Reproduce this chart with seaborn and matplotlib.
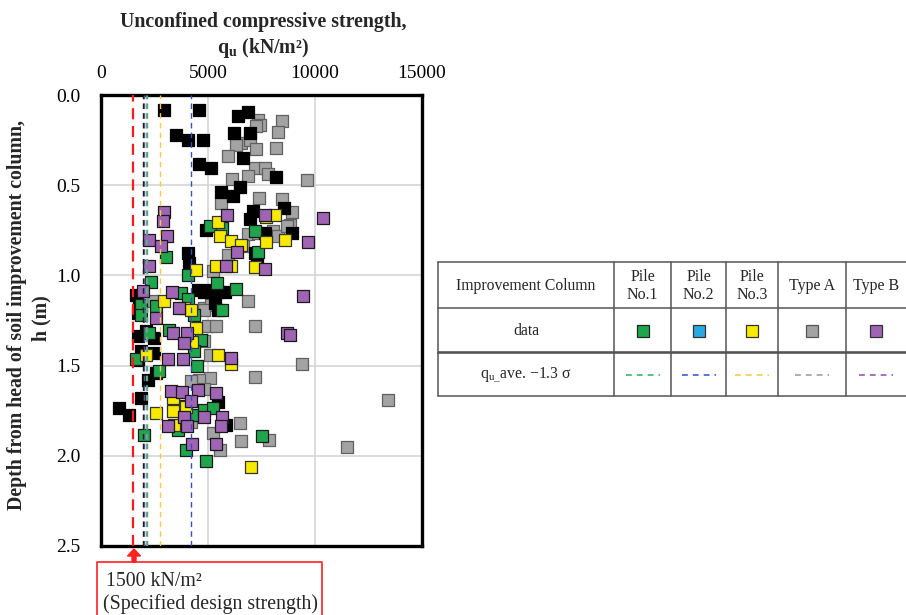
import numpy as np
import pandas as pd
import matplotlib
matplotlib.use("Agg")
import matplotlib.pyplot as plt
import seaborn as sns
from matplotlib.patches import Rectangle, FancyArrow

sns.set_style("white")
plt.rcParams['font.family'] = ['Liberation Serif', 'DejaVu Serif']
plt.rcParams['mathtext.fontset'] = 'custom'
plt.rcParams['mathtext.rm'] = 'Liberation Serif'
plt.rcParams['mathtext.bf'] = 'Liberation Serif:bold'
plt.rcParams['mathtext.it'] = 'Liberation Serif:italic'

# ---------------- data ----------------
typeA_qu = [7340, 7418, 8436, 8280, 6557, 6322, 6948, 7261, 8169, 5932, 7183, 7653, 6870, 7810,
            6120, 9640, 5620, 7386, 8436, 8905, 8827, 8043, 8280, 6870, 7340, 8670, 5932, 6634,
            5227, 7261, 6870, 2409, 4836, 5150, 7183, 4992, 5384, 4836, 5071, 9405, 7183, 5071,
            4601, 4210, 4836, 6479, 6557, 5540, 5227, 7857, 4210, 13413, 11517, 4836]
typeA_h = [0.137, 0.165, 0.146, 0.207, 0.266, 0.276, 0.248, 0.300, 0.294, 0.336, 0.405, 0.405,
           0.450, 0.436, 0.468, 0.470, 0.600, 0.571, 0.577, 0.650, 0.719, 0.756, 0.784, 0.769,
           0.765, 0.728, 0.885, 0.839, 0.978, 0.170, 1.144, 1.144, 1.180, 1.162, 1.279, 1.283,
           1.279, 1.366, 1.440, 1.490, 1.563, 1.569, 1.578, 1.588, 1.630, 1.818, 1.920, 1.966,
           1.874, 1.910, 1.810, 1.693, 1.951, 1.190]

black_qu = [2958, 4601, 3507, 4085, 4775, 4601, 5118, 6400, 6870, 6212, 6948, 6634, 8200, 6479,
            5620, 6165, 7104, 6948, 8559, 8905, 4915, 7653, 7183, 7309, 4052, 4099, 4523, 4836,
            5150, 5463, 5776, 1628, 5305, 5463, 1784, 1706, 2488, 2097, 1862, 2488, 1706, 2175,
            2566, 1862, 845, 1315, 5463, 5854, 1706]
black_h = [0.081, 0.081, 0.224, 0.250, 0.250, 0.380, 0.405, 0.118, 0.096, 0.210, 0.210, 0.350,
           0.455, 0.510, 0.540, 0.560, 0.645, 0.690, 0.627, 0.765, 0.747, 0.765, 0.876, 0.913,
           0.876, 0.930, 1.080, 1.090, 1.080, 1.090, 1.090, 1.107, 1.153, 1.190, 1.162, 1.338,
           1.347, 1.310, 1.420, 1.430, 1.467, 1.578, 1.540, 1.680, 1.735, 1.772, 1.700, 1.830,
           1.210]

pile1_qu = [5071, 5665, 7183, 7340, 3037, 4052, 2331, 5430, 6322, 1862, 3741, 4052, 2566, 4366,
            5665, 1862, 2253, 3193, 4680, 4366, 1628, 4492, 2723, 2019, 3976, 4915, 4445, 4836,
            5227, 3585, 7543, 3820]
pile1_h = [0.728, 0.737, 0.756, 0.870, 0.900, 0.996, 1.039, 1.042, 1.075, 1.162, 1.098, 1.130,
           1.170, 1.218, 1.190, 1.218, 1.320, 1.300, 1.357, 1.420, 1.464, 1.500, 1.532, 1.883,
           1.970, 2.030, 1.772, 1.744, 1.735, 1.855, 1.890, 1.726]

pile3_qu = [2958, 3866, 4210, 4445, 5384, 6087, 7183, 5463, 5540, 6087, 6525, 7700, 8122, 7700,
            8592, 4445, 4256, 2097, 5463, 6087, 3350, 2566, 3381, 3976, 3428, 7027]
pile3_h = [1.144, 1.180, 1.190, 0.968, 0.950, 0.950, 0.953, 0.706, 0.784, 0.808, 0.830, 0.676,
           0.667, 0.817, 0.806, 1.290, 1.370, 1.440, 1.440, 1.490, 1.680, 1.763, 1.754, 1.730,
           1.828, 2.060]

typeB_qu = [2927, 2880, 3084, 2222, 2802, 2253, 5885, 7653, 6369, 5822, 7653, 1940, 3303, 3662,
            10360, 9687, 9420, 2566, 3350, 4021, 3897, 3115, 3820, 6087, 8670, 8827, 3272, 3772,
            4554, 5384, 4210, 3897, 4836, 5665, 5620, 3146, 4021, 4256, 5384]
typeB_h = [0.650, 0.700, 0.784, 0.806, 0.839, 0.946, 0.664, 0.664, 0.873, 0.946, 0.963, 1.089,
           1.094, 1.180, 0.680, 0.815, 1.113, 1.236, 1.320, 1.320, 1.375, 1.464, 1.462, 1.458,
           1.320, 1.330, 1.643, 1.648, 1.633, 1.652, 1.695, 1.785, 1.785, 1.785, 1.837, 1.837,
           1.837, 1.933, 1.933]

# q_u ave. - 1.3 sigma lines
line_names = ["Design", "All", "Type B", "Type A", "Pile No.1", "Pile No.3", "Pile No.2"]
line_values = [1500, 1950, 2030, 2080, 2140, 2750, 4190]

x_ticks = [0, 5000, 10000, 15000]
y_ticks = [0.0, 0.5, 1.0, 1.5, 2.0, 2.5]

# table labels
table_cols = ["Pile\nNo.1", "Pile\nNo.2", "Pile\nNo.3", "Type A", "Type B"]

# ---------------- styles ----------------
C_GREEN = "#1fa64c"
C_BLUE = "#2aa8e0"
C_YELLOW = "#f7ea00"
C_GRAY = "#a3a3a3"
C_PURPLE = "#a064b4"
line_colors = {"Design": "#ff1a1a", "All": "#111111", "Type B": "#5a4f9a", "Type A": "#9a9a9a",
               "Pile No.1": "#3cb371", "Pile No.3": "#f6c94a", "Pile No.2": "#3a4fbf"}

W, H = 906, 615
fig = plt.figure(figsize=(W / 100, H / 100), dpi=100)
ax = fig.add_axes([101 / W, 1 - 546 / H, 321 / W, 451 / H])

series = [
    ("Type A", typeA_qu, typeA_h, C_GRAY, "#606060"),
    ("Black", black_qu, black_h, "#000000", "#000000"),
    ("Pile No.1", pile1_qu, pile1_h, C_GREEN, "#1a1a1a"),
    ("Pile No.3", pile3_qu, pile3_h, C_YELLOW, "#333333"),
    ("Type B", typeB_qu, typeB_h, C_PURPLE, "#1a1a1a"),
]

for name, xs, ys, fc, ec in series:
    df = pd.DataFrame({"qu": xs, "h": ys})
    sns.scatterplot(data=df, x="qu", y="h", ax=ax, marker="s", s=72, color=fc,
                    edgecolor=ec, linewidth=0.9, zorder=3, legend=False)

for nm, v in zip(line_names, line_values):
    lw = 1.6 if nm == "Design" else 1.0
    dash = (5, 3) if nm == "Design" else (4, 3)
    ax.axvline(v, color=line_colors[nm], lw=lw, dashes=dash, zorder=4)

ax.set_xlim(0, 15000)
ax.set_ylim(2.5, 0)
ax.set_xticks(x_ticks)
ax.set_yticks(y_ticks)
ax.set_xticklabels([str(t) for t in x_ticks])
ax.set_yticklabels([f"{t:.1f}" for t in y_ticks])
ax.xaxis.tick_top()
ax.tick_params(axis="both", length=0, labelsize=14, colors="black")
ax.tick_params(axis="x", pad=9)
ax.tick_params(axis="y", pad=15)
ax.grid(True, color="#d9d9d9", lw=1.3, zorder=0)
ax.set_axisbelow(True)
ax.set_xlabel("")
ax.set_ylabel("")
for sp in ax.spines.values():
    sp.set_visible(True)
    sp.set_color("black")
    sp.set_linewidth(2.4)

# axis titles
fig.text(263 / W, 1 - 22 / H, "Unconfined compressive strength,", ha="center", va="center",
         fontsize=14.3, fontweight="bold")
fig.text(263 / W, 1 - 48 / H, r"$\mathbf{q_u}$ (kN/m²)", ha="center", va="center",
         fontsize=14.3, fontweight="bold")
fig.text(17 / W, 1 - 315 / H, "Depth from head of soil improvement column,", ha="center",
         va="center", rotation=90, fontsize=14.3, fontweight="bold")
fig.text(41 / W, 1 - 318 / H, "h (m)", ha="center", va="center", rotation=90, fontsize=14.3,
         fontweight="bold")

# overlay in pixel coordinates
ov = fig.add_axes([0, 0, 1, 1], facecolor="none")
ov.set_xlim(0, W)
ov.set_ylim(H, 0)
ov.axis("off")

# annotation box + arrow
ov.plot([97, 97, 322, 322], [H + 5, 562, 562, H + 5], color="#ff2020", lw=1.2, clip_on=False)
ov.add_patch(FancyArrow(134, 562, 0, -13, width=4, head_width=13, head_length=7,
                        length_includes_head=True, color="#ff2020", clip_on=False))
ov.text(106, 581, "1500 kN/m²", fontsize=14.3, va="center", ha="left")
ov.text(103, 604, "(Specified design strength)", fontsize=14.3, va="center", ha="left")

# table
tc = "#555555"
x_edges = [438, 614, 671, 726, 778, 846, 920]
y_edges = [262, 308, 396]
for y in y_edges:
    ov.plot([438, 920], [y, y], color=tc, lw=1.1, clip_on=False)
ov.plot([438, 920], [352, 352], color=tc, lw=1.9, clip_on=False)
for x in x_edges[:-1]:
    ov.plot([x, x], [262, 396], color=tc, lw=1.1, clip_on=False)

ov.text(526, 286, "Improvement Column", fontsize=11.3, ha="center", va="center")
ov.text(526, 331, "data", fontsize=11.3, ha="center", va="center")
ov.text(526, 375, r"q$_{\mathrm{u\_}}$ave. $-$1.3 σ", fontsize=11.3, ha="center", va="center")
centers = [(x_edges[i] + x_edges[i + 1]) / 2 for i in range(1, 6)]
centers[-1] = 876
for c, lab in zip(centers, table_cols):
    ov.text(c, 286, lab, fontsize=11.5, ha="center", va="center", linespacing=1.2)

tbl_fc = [C_GREEN, C_BLUE, C_YELLOW, C_GRAY, C_PURPLE]
tbl_ec = ["#222222", "#333333", "#333333", "#555555", "#333333"]
tbl_lc = ["#3cb371", "#3a5fcf", "#f6c94a", "#a0a0a0", "#9a55b5"]
for c, fc_, ec_, lc_ in zip(centers, tbl_fc, tbl_ec, tbl_lc):
    ov.add_patch(Rectangle((c - 6, 325), 12, 12, facecolor=fc_, edgecolor=ec_, lw=0.9))
    ov.plot([c - 17, c + 17], [375, 375], color=lc_, lw=1.2, dashes=(3.5, 3))

fig.savefig("out.png", dpi=100)
